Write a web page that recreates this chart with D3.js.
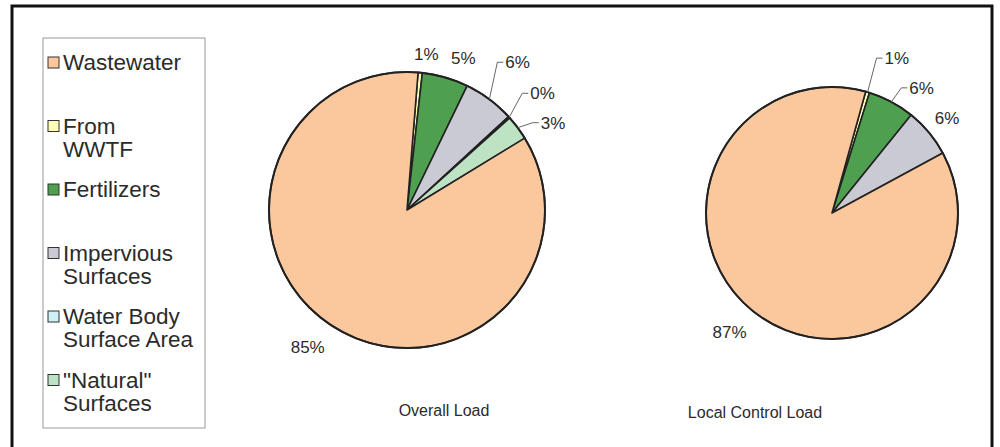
<!DOCTYPE html>
<html>
<head>
<meta charset="utf-8">
<script src="https://cdn.jsdelivr.net/npm/d3@7"></script>
<style>
    body { margin: 0; background: #fff; }
    text { font-family: "Liberation Sans", Arial, sans-serif; fill: #2b2b2b; }
</style>
</head>
<body>
<div id="chart"></div>
<script>
    const categories = ['Wastewater', 'From WWTF', 'Fertilizers', 'Impervious Surfaces', 'Water Body Surface Area', '"Natural" Surfaces'];
    const legendLines = [['Wastewater'], ['From', 'WWTF'], ['Fertilizers'], ['Impervious', 'Surfaces'], ['Water Body', 'Surface Area'], ['"Natural"', 'Surfaces']];

    // percent of load, same order as categories
    const overallLoad = [85.0, 0.5, 5.4, 6.0, 0.2, 2.9];
    const localControlLoad = [87.2, 0.5, 6.0, 6.3, 0, 0];
    const pieTitles = ['Overall Load', 'Local Control Load'];

    const colors = {
        'Wastewater': '#FAC89C',
        'From WWTF': '#FFFFB5',
        'Fertilizers': '#4F9F50',
        'Impervious Surfaces': '#CACAD4',
        'Water Body Surface Area': '#CDEFF5',
        '"Natural" Surfaces': '#BDE3C4'
    };

    // slices run clockwise from WWTF, wastewater last
    const sliceOrder = [1, 2, 3, 4, 5, 0];

    const width = 1000, height = 447;
    const svg = d3.select('#chart').append('svg')
        .attr('width', width)
        .attr('height', height);

    // outer frame
    svg.append('rect')
        .attr('x', 12).attr('y', 6)
        .attr('width', 980).attr('height', 470)
        .attr('fill', 'none')
        .attr('stroke', '#111')
        .attr('stroke-width', 3);

    // Legend
    const legend = svg.append('g');
    legend.append('rect')
        .attr('x', 43).attr('y', 38)
        .attr('width', 162).attr('height', 390)
        .attr('fill', '#fff')
        .attr('stroke', '#999');

    const items = legend.selectAll('.item')
        .data(categories)
        .enter().append('g')
        .attr('transform', (d, i) => `translate(48,${70 + i * 63.5})`);

    items.append('rect')
        .attr('x', 0).attr('y', -13)
        .attr('width', 11).attr('height', 11)
        .attr('fill', d => colors[d])
        .attr('stroke', '#333');

    items.append('text')
        .style('font-size', '22.5px')
        .selectAll('tspan')
        .data((d, i) => legendLines[i])
        .enter().append('tspan')
        .attr('x', 15)
        .attr('dy', (d, i) => i === 0 ? 0 : 23)
        .text(d => d);

    // label placement relative to the slice's point on the rim
    // leader: true draws a bent line from rim up to the label
    const pies = [
        {
            values: overallLoad, cx: 407, cy: 210, r: 138, start: 4.6,
            labels: {
                'From WWTF': { dx: 6, dy: -13, anchor: 'middle' },
                'Fertilizers': { dx: 18, dy: -13, anchor: 'middle' },
                'Impervious Surfaces': { dx: 16, dy: -31, anchor: 'start', leader: true },
                'Water Body Surface Area': { dx: 21, dy: -18, anchor: 'start', leader: true },
                '"Natural" Surfaces': { dx: 23, dy: 1, anchor: 'start', leader: true },
                'Wastewater': { dx: -27, dy: 25, anchor: 'middle' }
            },
            titleX: 444, titleY: 416
        },
        {
            values: localControlLoad, cx: 832, cy: 213, r: 126, start: 15.5,
            labels: {
                'From WWTF': { dx: 17, dy: -28, anchor: 'start', leader: true },
                'Fertilizers': { dx: 18, dy: -8, anchor: 'start', leader: true },
                'Impervious Surfaces': { dx: 6, dy: -8, anchor: 'start' },
                'Wastewater': { dx: -24, dy: 26, anchor: 'middle' }
            },
            titleX: 755, titleY: 418
        }
    ];

    pies.forEach((p, pi) => {
        const rad = p.start * Math.PI / 180;
        const pie = d3.pie()
            .sort(null)
            .value(i => p.values[i])
            .startAngle(rad)
            .endAngle(rad + 2 * Math.PI);

        const arc = d3.arc().innerRadius(0).outerRadius(p.r);
        const slices = pie(sliceOrder).filter(s => p.values[s.data] > 0);

        const g = svg.append('g')
            .attr('transform', `translate(${p.cx},${p.cy})`);

        g.selectAll('path')
            .data(slices)
            .enter().append('path')
            .attr('d', arc)
            .attr('fill', s => colors[categories[s.data]])
            .attr('stroke', '#222')
            .attr('stroke-width', 1.6)
            .attr('stroke-linejoin', 'round');

        g.append('circle')
            .attr('r', p.r)
            .attr('fill', 'none')
            .attr('stroke', '#222')
            .attr('stroke-width', 2);

        // Percentage labels
        slices.forEach(s => {
            const name = categories[s.data];
            const lab = p.labels[name];
            if (!lab) return;
            const mid = (s.startAngle + s.endAngle) / 2;
            const ex = p.r * Math.sin(mid), ey = -p.r * Math.cos(mid);
            const tx = ex + lab.dx, ty = ey + lab.dy;

            if (lab.leader) {
                g.append('polyline')
                    .attr('points', `${ex},${ey} ${tx - 8},${ty - 6} ${tx - 2},${ty - 6}`)
                    .attr('fill', 'none')
                    .attr('stroke', '#666')
                    .attr('stroke-width', 1);
            }

            g.append('text')
                .attr('x', tx)
                .attr('y', ty)
                .style('font-size', '17px')
                .style('text-anchor', lab.anchor)
                .text(Math.round(p.values[s.data]) + '%');
        });

        svg.append('text')
            .attr('x', p.titleX)
            .attr('y', p.titleY)
            .style('font-size', '16px')
            .style('text-anchor', 'middle')
            .text(pieTitles[pi]);
    });
</script>
</body>
</html>
